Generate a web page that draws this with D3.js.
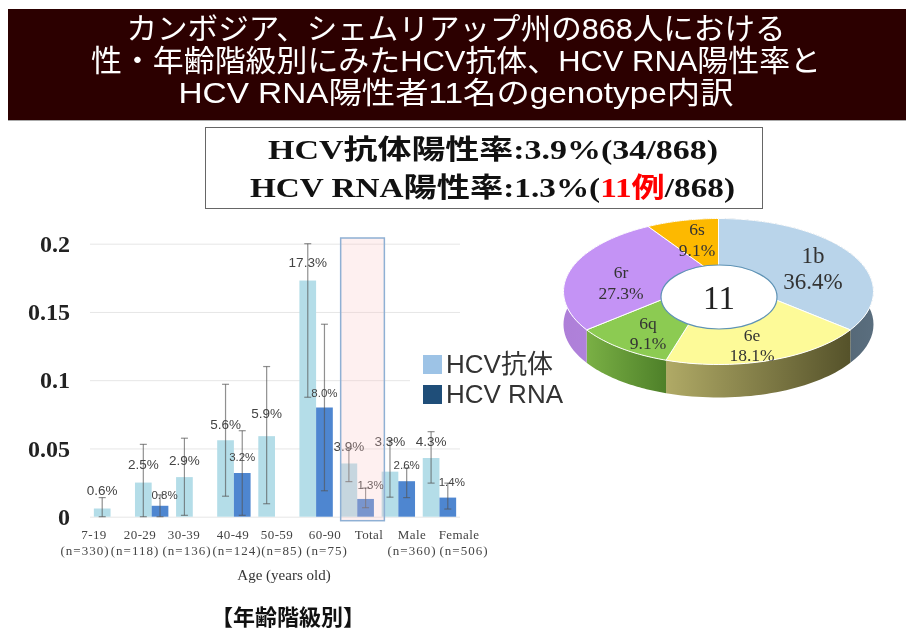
<!DOCTYPE html>
<html>
<head>
<meta charset="utf-8">
<script src="https://cdn.jsdelivr.net/npm/d3@7"></script>
<style>
    html, body { margin: 0; padding: 0; background: #fff; }
    svg { display: block; filter: blur(0.4px); }
    .sans { font-family: "Liberation Sans", "Noto Sans CJK JP", sans-serif; }
    .serif { font-family: "Liberation Serif", "Noto Sans CJK JP", serif; }
    .axis .domain { display: none; }
    .axis line { stroke: #e6e6e6; }
    .axis text { font-family: "Liberation Serif", serif; font-weight: bold; font-size: 24px; fill: #222; }
</style>
</head>
<body>
<div id="chart"></div>
<script>
// the chart's values
var titleLines = ["カンボジア、シェムリアップ州の868人における", "性・年齢階級別にみたHCV抗体、HCV RNA陽性率と", "HCV RNA陽性者11名のgenotype内訳"];
var categories = ["7-19", "20-29", "30-39", "40-49", "50-59", "60-90", "Total", "Male", "Female"];
var sampleSizes = ["(n=330)", "(n=118)", "(n=136)", "(n=124)", "(n=85)", "(n=75)", "", "(n=360)", "(n=506)"];
var antibody = [0.006, 0.025, 0.029, 0.056, 0.059, 0.173, 0.039, 0.033, 0.043];
var antibodyLow = [0, 0, 0.001, 0.015, 0.0095, 0.0875, 0.0257, 0.0143, 0.0246];
var antibodyHigh = [0.014, 0.053, 0.0575, 0.097, 0.11, 0.2, 0.05, 0.056, 0.0623];
var rna = [null, 0.008, null, 0.032, null, 0.08, 0.013, 0.026, 0.014];
var rnaLow = [null, 0, null, 0.001, null, 0.019, 0.0066, 0.014, 0.0056];
var rnaHigh = [null, 0.016, null, 0.063, null, 0.141, 0.021, 0.0357, 0.0246];
var yTicks = [0, 0.05, 0.1, 0.15, 0.2];
var genotypes = ["1b", "6e", "6q", "6r", "6s"];
var genotypeShare = [36.4, 18.1, 9.1, 27.3, 9.1];

// manual label placement, the original labels were hand placed
var titleWidth = [659, 730, 555];
var catLabelX = [94, 140, 184, 233, 277, 325, 369, 412, 459];
var nLabelX = [85, 135, 187, 237, 282, 327, 0, 412, 464];
var antibodyLift = [18, 18, 17, 16, 23, 18, 17, 30, 17];
var rnaLift = [0, 11, 0, 16, 0, 15, 14, 16, 16];
var rnaShift = [0, 4.5, 0, 0, 0, 0, 5, 0, 4];
var pieLabelXY = [[813, 255], [752, 335], [648, 323], [621, 272], [697, 229]];
var pieLabelGap = [26, 20, 20, 21, 21];
var pieLabelSize = [23, 17.5, 17.5, 17.5, 17.5];

var pieTop = ["#b9d4ea", "#fdfa98", "#8ccb52", "#c493f5", "#fdb900"];
var pieWallFrom = ["#5a6e7e", "#b0aa66", "#7ab045", "#ae7fd8", "#c08c00"];
var pieWallTo = ["#3f4d58", "#55522a", "#4e8029", "#b488e0", "#c08c00"];

var svg = d3.select("#chart").append("svg").attr("width", 906).attr("height", 630);
var defs = svg.append("defs");

// header band
svg.append("rect").attr("x", 8).attr("y", 9).attr("width", 898).attr("height", 111).attr("fill", "#2c0000");
svg.append("line").attr("x1", 8).attr("x2", 906).attr("y1", 120.5).attr("y2", 120.5).attr("stroke", "#aaa");
svg.selectAll(".title").data(titleLines).enter().append("text")
    .attr("class", "title sans")
    .attr("x", 456)
    .attr("y", function(d, i) { return 39 + i * 32; })
    .attr("text-anchor", "middle")
    .attr("font-size", 30)
    .attr("textLength", function(d, i) { return titleWidth[i]; })
    .attr("lengthAdjust", "spacingAndGlyphs")
    .attr("fill", "#fff")
    .text(function(d) { return d; });

// summary box
svg.append("rect").attr("x", 205.5).attr("y", 127.5).attr("width", 557).attr("height", 81)
    .attr("fill", "#fff").attr("stroke", "#666");
var line1 = svg.append("text").attr("class", "serif").attr("x", 268).attr("y", 159)
    .attr("font-size", 27).attr("font-weight", "bold").attr("fill", "#111")
    .attr("textLength", 450).attr("lengthAdjust", "spacingAndGlyphs");
line1.append("tspan").text("HCV抗体陽性率:3.9%(34/868)");
var line2 = svg.append("text").attr("class", "serif").attr("x", 250).attr("y", 197)
    .attr("font-size", 27).attr("font-weight", "bold").attr("fill", "#111")
    .attr("textLength", 485).attr("lengthAdjust", "spacingAndGlyphs");
line2.append("tspan").text("HCV RNA陽性率:1.3%(");
line2.append("tspan").attr("fill", "#f00").text("11例");
line2.append("tspan").text("/868)");

// bar chart
var x = d3.scaleBand().domain(categories).range([90, 460]);
var y = d3.scaleLinear().domain([0, 0.2]).range([516.7, 243.7]);
var barW = 16.7;

var axis = d3.axisLeft(y)
    .tickValues(yTicks)
    .tickSize(-370)
    .tickPadding(20)
    .tickFormat(function(d) { return String(d); });
svg.append("g").attr("class", "axis").attr("transform", "translate(90,0)").call(axis);

function series(values, low, high, color, side) {
    function cx(d, i) { return x(categories[i]) + x.bandwidth() / 2 + side * barW / 2; }
    var rows = values.map(function(v, i) { return { v: v, lo: low[i], hi: high[i], i: i }; })
        .filter(function(d) { return d.v !== null; });
    svg.selectAll(null).data(rows).enter().append("rect")
        .attr("x", function(d) { return cx(d, d.i) - barW / 2; })
        .attr("width", barW)
        .attr("y", function(d) { return y(d.v); })
        .attr("height", function(d) { return y(0) - y(d.v); })
        .attr("fill", color);
    var err = svg.selectAll(null).data(rows).enter().append("g")
        .attr("stroke", "#555").attr("stroke-opacity", 0.65).attr("stroke-width", 1.2);
    err.append("line")
        .attr("x1", function(d) { return cx(d, d.i); })
        .attr("x2", function(d) { return cx(d, d.i); })
        .attr("y1", function(d) { return y(d.lo); })
        .attr("y2", function(d) { return y(d.hi); });
    ["lo", "hi"].forEach(function(k) {
        err.append("line")
            .attr("x1", function(d) { return cx(d, d.i) - 3.5; })
            .attr("x2", function(d) { return cx(d, d.i) + 3.5; })
            .attr("y1", function(d) { return y(d[k]); })
            .attr("y2", function(d) { return y(d[k]); });
    });
    return { rows: rows, cx: cx };
}

var lightSeries = series(antibody, antibodyLow, antibodyHigh, "#b4dde8", -1);
var darkSeries = series(rna, rnaLow, rnaHigh, "#4e86d0", 1);

svg.selectAll(null).data(lightSeries.rows).enter().append("text")
    .attr("class", "sans")
    .attr("x", function(d) { return lightSeries.cx(d, d.i); })
    .attr("y", function(d) { return y(d.v) - antibodyLift[d.i] + 4.5; })
    .attr("text-anchor", "middle")
    .attr("font-size", 13.5)
    .attr("fill", "#444")
    .text(function(d) { return (d.v * 100).toFixed(1) + "%"; });
svg.selectAll(null).data(darkSeries.rows).enter().append("text")
    .attr("class", "sans")
    .attr("x", function(d) { return darkSeries.cx(d, d.i) + rnaShift[d.i]; })
    .attr("y", function(d) { return y(d.v) - rnaLift[d.i] + 4; })
    .attr("text-anchor", "middle")
    .attr("font-size", 11.5)
    .attr("fill", "#444")
    .text(function(d) { return (d.v * 100).toFixed(1) + "%"; });

// highlight over the Total group
svg.append("rect").attr("x", x("Total") + 4).attr("y", 238).attr("width", 43.7).attr("height", 282.7)
    .attr("fill", "rgb(250,196,196)").attr("fill-opacity", 0.25);
svg.append("rect").attr("x", x("Total") + 4).attr("y", 238).attr("width", 43.7).attr("height", 282.7)
    .attr("fill", "none").attr("stroke", "#8fb0d4").attr("stroke-width", 1.5);

svg.selectAll(null).data(categories).enter().append("text")
    .attr("class", "serif")
    .attr("x", function(d, i) { return catLabelX[i]; })
    .attr("y", 539)
    .attr("text-anchor", "middle")
    .attr("font-size", 13)
    .attr("letter-spacing", 0.4)
    .attr("fill", "#444")
    .text(function(d) { return d; });
svg.selectAll(null).data(sampleSizes).enter().append("text")
    .attr("class", "serif")
    .attr("x", function(d, i) { return nLabelX[i]; })
    .attr("y", 555)
    .attr("text-anchor", "middle")
    .attr("font-size", 13)
    .attr("letter-spacing", 1)
    .attr("fill", "#444")
    .text(function(d) { return d; });
svg.append("text").attr("class", "serif").attr("x", 284).attr("y", 580)
    .attr("text-anchor", "middle").attr("font-size", 15).attr("fill", "#333").text("Age (years old)");
svg.append("text").attr("class", "sans").attr("x", 288).attr("y", 625)
    .attr("text-anchor", "middle").attr("font-size", 22).attr("font-weight", "bold").attr("fill", "#111").text("【年齢階級別】");

// legend, sits on a white patch that hides part of the 0.1 grid line
svg.append("rect").attr("x", 410).attr("y", 350).attr("width", 60).attr("height", 60).attr("fill", "#fff");
[["HCV抗体", "#9dc3e6"], ["HCV RNA", "#1f4e79"]].forEach(function(l, i) {
    svg.append("rect").attr("x", 423).attr("y", 355 + i * 30).attr("width", 19).attr("height", 19).attr("fill", l[1]);
    svg.append("text").attr("class", "sans").attr("x", 446).attr("y", 373 + i * 30)
        .attr("font-size", 26).attr("fill", "#333").text(l[0]);
});

// 3d pie, slices are laid out with d3.pie then pushed through a small perspective
var pieCx = 718.5, pieCy = 291.5, pieRx = 155, pieRy = 73, pieDepth = 33, persp = 0.2;
function project(a, r) {
    var u = r * Math.sin(a), v = -r * Math.cos(a), w = 1 - persp * v;
    return [pieCx + pieRx * (u / w) / 1.0206, pieCy + pieRy * (v / w - 0.2083) / 1.0417];
}
var slices = d3.pie().sort(null)(genotypeShare);
var pathOf = d3.line();
function rim(s, dy) {
    return d3.range(0, 41).map(function(t) {
        var p = project(s.startAngle + (s.endAngle - s.startAngle) * t / 40, 1);
        return [p[0], p[1] + dy];
    });
}
slices.forEach(function(s, i) {
    var g = defs.append("linearGradient").attr("id", "wall" + i);
    g.append("stop").attr("offset", "0%").attr("stop-color", i === 0 ? pieWallTo[i] : pieWallFrom[i]);
    g.append("stop").attr("offset", "100%").attr("stop-color", i === 0 ? pieWallFrom[i] : pieWallTo[i]);
    svg.append("path")
        .attr("d", pathOf(rim(s, 0).concat(rim(s, pieDepth).reverse())) + "Z")
        .attr("fill", "url(#wall" + i + ")");
});
svg.selectAll(null).data(slices).enter().append("path")
    .attr("d", function(s) { return pathOf([project(0, 0)].concat(rim(s, 0))) + "Z"; })
    .attr("fill", function(s, i) { return pieTop[i]; })
    .attr("stroke", "#fff")
    .attr("stroke-width", 1);
svg.append("ellipse").attr("cx", 719).attr("cy", 297).attr("rx", 58).attr("ry", 32)
    .attr("fill", "#fff").attr("stroke", "#5f93b5").attr("stroke-width", 1.2);
svg.append("text").attr("class", "serif").attr("x", 719).attr("y", 309)
    .attr("text-anchor", "middle").attr("font-size", 33).attr("fill", "#222").text("11");

genotypes.forEach(function(g, i) {
    var at = pieLabelXY[i];
    [g, genotypeShare[i].toFixed(1) + "%"].forEach(function(t, j) {
        svg.append("text").attr("class", "serif")
            .attr("x", at[0])
            .attr("y", at[1] + j * pieLabelGap[i] + pieLabelSize[i] * 0.33)
            .attr("text-anchor", "middle")
            .attr("font-size", pieLabelSize[i])
            .attr("fill", "#333")
            .text(t);
    });
});
</script>
</body>
</html>
